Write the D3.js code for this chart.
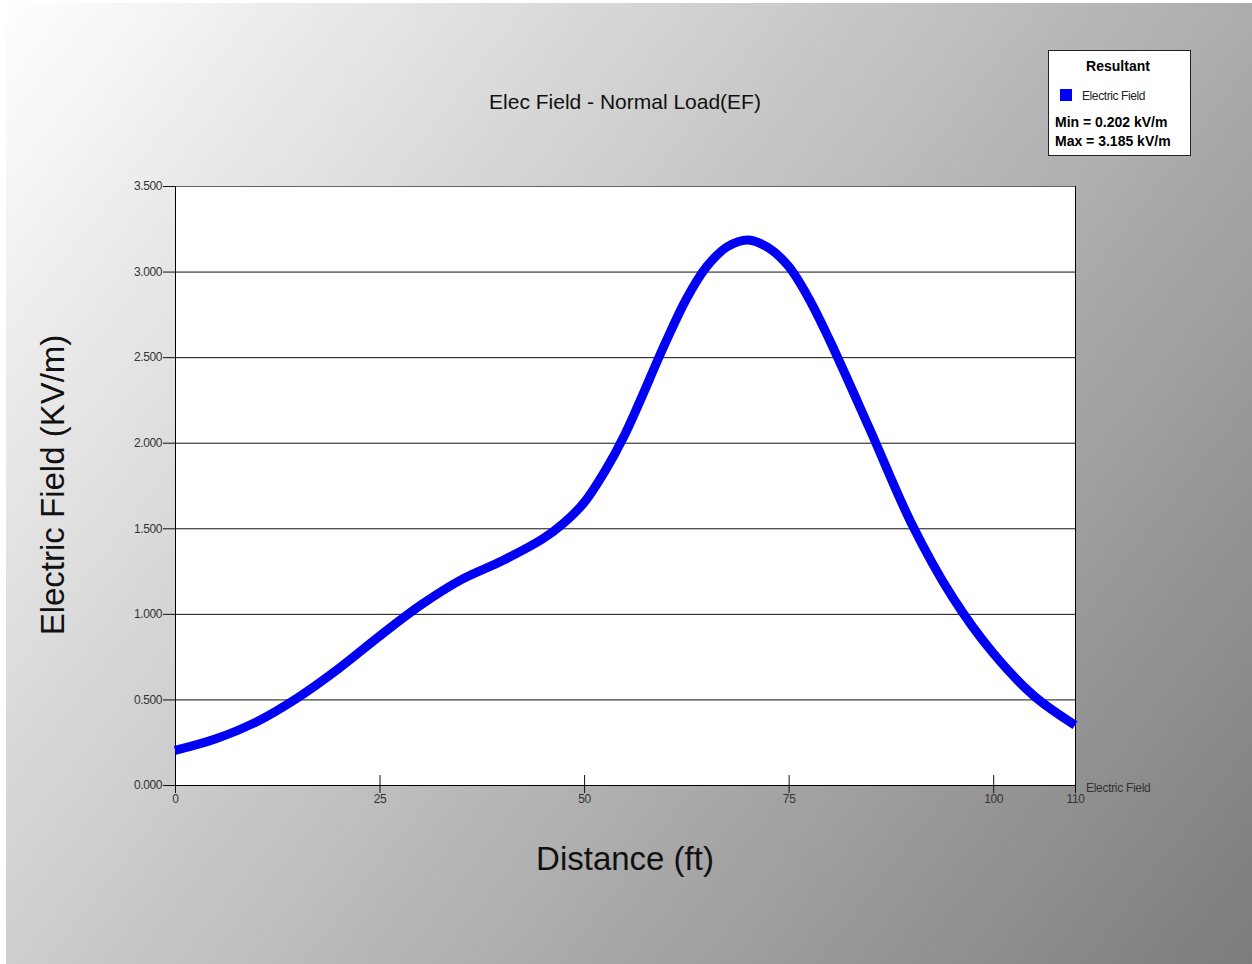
<!DOCTYPE html>
<html>
<head>
<meta charset="utf-8">
<script src="https://cdn.jsdelivr.net/npm/d3@7"></script>
<style>
  body { margin: 0; background: #fff; }
  svg { display: block; font-family: "Liberation Sans", Arial, sans-serif; }
</style>
</head>
<body>
<svg id="chart" width="1252" height="964"></svg>
<script>
// distance (ft) and field (kV/m)
const distance = [0, 5, 10, 15, 20, 25, 30, 35, 40, 45, 47.5, 50, 52.5, 55, 60, 62.5, 65, 67.5, 70, 72.5, 75, 77.5, 80, 85, 90, 95, 100, 105, 110];
const field = [0.202, 0.27, 0.37, 0.51, 0.68, 0.87, 1.05, 1.20, 1.31, 1.44, 1.53, 1.65, 1.83, 2.05, 2.59, 2.84, 3.03, 3.145, 3.185, 3.14, 3.03, 2.84, 2.60, 2.07, 1.53, 1.10, 0.77, 0.52, 0.35];
const xTicks = [0, 25, 50, 75, 100, 110];
const yTicks = [0, 0.5, 1, 1.5, 2, 2.5, 3, 3.5];
const legendLines = ["Min = 0.202 kV/m", "Max = 3.185 kV/m"];

const svg = d3.select("#chart");
const W = 1252, H = 964;
const m = { left: 175, right: 1075, top: 186, bottom: 785 };

// background gradient
const defs = svg.append("defs");
const grad = defs.append("linearGradient").attr("id", "bg")
  .attr("gradientUnits", "userSpaceOnUse")
  .attr("x1", 0).attr("y1", 0).attr("x2", W).attr("y2", H);
grad.append("stop").attr("offset", 0).attr("stop-color", "#ffffff");
grad.append("stop").attr("offset", 1).attr("stop-color", "#7c7c7c");
svg.append("rect").attr("x", 6).attr("y", 3).attr("width", W - 6).attr("height", H - 3).attr("fill", "url(#bg)");

const x = d3.scaleLinear().domain([0, 110]).range([m.left, m.right]);
const y = d3.scaleLinear().domain([0, 3.5]).range([m.bottom, m.top]);

// plot area
svg.append("rect")
  .attr("x", m.left).attr("y", m.top)
  .attr("width", m.right - m.left).attr("height", m.bottom - m.top)
  .attr("fill", "#fff");

// y axis with gridlines
const yAxis = svg.append("g")
  .attr("transform", `translate(${m.left},0)`)
  .call(d3.axisLeft(y).tickValues(yTicks).tickFormat(d3.format(".3f")).tickSize(12).tickPadding(1));
yAxis.select(".domain").remove();
yAxis.selectAll(".tick line").attr("stroke", "#111");
yAxis.selectAll(".tick text").attr("fill", "#333").style("font-size", "12px").attr("letter-spacing", "-0.4");

svg.append("g").selectAll("line")
  .data(yTicks)
  .join("line")
  .attr("x1", m.left).attr("x2", m.right)
  .attr("y1", d => y(d) + 0.5).attr("y2", d => y(d) + 0.5)
  .attr("stroke", d => d === 3.5 ? "#666" : "#111")
  .attr("stroke-width", 1);

// x axis
const xAxis = svg.append("g")
  .attr("transform", `translate(0,${m.bottom})`)
  .call(d3.axisBottom(x).tickValues(xTicks).tickSize(8).tickPadding(1));
xAxis.select(".domain").remove();
xAxis.selectAll(".tick line").attr("stroke", "#111").attr("y1", -10);
xAxis.selectAll(".tick text").attr("fill", "#333").style("font-size", "12px").attr("letter-spacing", "-0.4");

// frame
svg.append("line").attr("x1", m.left + 0.5).attr("x2", m.left + 0.5).attr("y1", m.top).attr("y2", m.bottom).attr("stroke", "#000");
svg.append("line").attr("x1", m.right + 0.5).attr("x2", m.right + 0.5).attr("y1", m.top).attr("y2", m.bottom).attr("stroke", "#000");
svg.append("line").attr("x1", m.left).attr("x2", m.right + 1).attr("y1", m.bottom + 0.5).attr("y2", m.bottom + 0.5).attr("stroke", "#000");

// series
const line = d3.line()
  .x((d, i) => x(distance[i]))
  .y(d => y(d))
  .curve(d3.curveCatmullRom.alpha(0.5));
svg.append("path")
  .datum(field)
  .attr("d", line)
  .attr("fill", "none")
  .attr("stroke", "#0000f2")
  .attr("stroke-width", 9);

// series name at the end of x axis
svg.append("text").attr("x", 1086).attr("y", 792)
  .attr("fill", "#333").style("font-size", "12px").attr("letter-spacing", "-0.3")
  .text("Electric Field");

// titles
svg.append("text").attr("x", 625).attr("y", 109)
  .attr("text-anchor", "middle").style("font-size", "21px").attr("fill", "#111")
  .text("Elec Field - Normal Load(EF)");
svg.append("text").attr("x", 625).attr("y", 870)
  .attr("text-anchor", "middle").style("font-size", "33px").attr("fill", "#111")
  .text("Distance (ft)");
svg.append("text")
  .attr("transform", "translate(64,485) rotate(-90)")
  .attr("text-anchor", "middle").style("font-size", "33px").attr("fill", "#111")
  .text("Electric Field (KV/m)");

// legend
const lg = svg.append("g").attr("transform", "translate(1048,50)");
lg.append("rect").attr("x", 0.5).attr("y", 0.5).attr("width", 142).attr("height", 105)
  .attr("fill", "#fff").attr("stroke", "#222");
lg.append("text").attr("x", 70).attr("y", 21).attr("text-anchor", "middle")
  .style("font-size", "14px").style("font-weight", "bold").text("Resultant");
lg.append("rect").attr("x", 12).attr("y", 39).attr("width", 12).attr("height", 12).attr("fill", "#0000f2");
lg.append("text").attr("x", 34).attr("y", 50).style("font-size", "12px").attr("letter-spacing", "-0.4")
  .attr("fill", "#222").text("Electric Field");
lg.selectAll("text.mm")
  .data(legendLines)
  .join("text")
  .attr("class", "mm")
  .attr("x", 7).attr("y", (d, i) => 77 + i * 19)
  .style("font-size", "14px").style("font-weight", "bold")
  .text(d => d);
</script>
</body>
</html>
